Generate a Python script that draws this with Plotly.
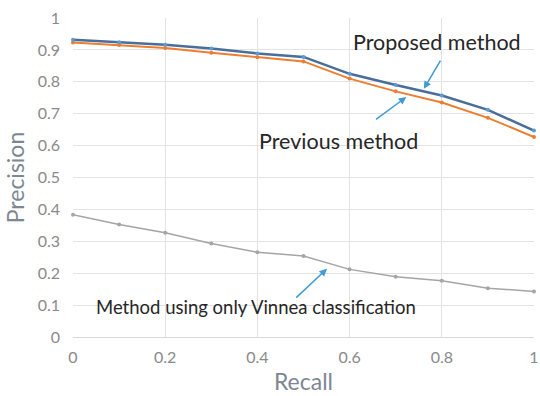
import plotly.graph_objects as go

recall = [0, 0.1, 0.2, 0.3, 0.4, 0.5, 0.6, 0.7, 0.8, 0.9, 1.0]
proposed = [0.932, 0.924, 0.916, 0.904, 0.889, 0.878, 0.825, 0.790, 0.757, 0.712, 0.647]
previous = [0.923, 0.915, 0.906, 0.891, 0.877, 0.864, 0.810, 0.770, 0.735, 0.687, 0.627]
vinnea = [0.383, 0.353, 0.327, 0.293, 0.266, 0.254, 0.212, 0.189, 0.176, 0.153, 0.143]

FONT = "Lato"
fig = go.Figure()
fig.add_trace(go.Scatter(x=recall, y=vinnea, mode="lines+markers",
                         line=dict(color="#A5A5A5", width=1.5),
                         marker=dict(color="#A5A5A5", size=4), cliponaxis=False))
fig.add_trace(go.Scatter(x=recall, y=previous, mode="lines+markers",
                         line=dict(color="#ED7D31", width=2),
                         marker=dict(color="#ED7D31", size=4), cliponaxis=False))
fig.add_trace(go.Scatter(x=recall, y=proposed, mode="lines+markers",
                         line=dict(color="#4A6E9A", width=2.5),
                         marker=dict(color="#5B9BD5", size=4), cliponaxis=False))

def ann(text, size, tx, ty, ax0, ay0, ax1, ay1):
    fig.add_annotation(x=tx, y=ty, text=text, showarrow=False,
                       font=dict(family=FONT, size=size, color="#262626"))
    fig.add_annotation(x=ax1, y=ay1, ax=ax0, ay=ay0, xref="x", yref="y",
                       axref="x", ayref="y", text="", showarrow=True,
                       arrowhead=2, arrowsize=1, arrowwidth=1.5, arrowcolor="#3E9BD8")

ann("Proposed method", 21.5, 0.789, 0.926, 0.799, 0.871, 0.761, 0.778)
ann("Previous method", 21.5, 0.576, 0.615, 0.654, 0.679, 0.723, 0.752)
ann("Method using only Vinnea classification", 18.5, 0.396, 0.095, 0.481, 0.119, 0.551, 0.214)

fig.update_layout(
    width=540, height=396,
    margin=dict(l=73, r=6, t=18, b=59),
    plot_bgcolor="white", paper_bgcolor="white",
    showlegend=False,
    font=dict(family=FONT),
)
fig.update_xaxes(range=[0, 1], tickvals=[0, 0.2, 0.4, 0.6, 0.8, 1],
                 ticktext=["0", "0.2", "0.4", "0.6", "0.8", "1"],
                 automargin=False, ticklabeloverflow="allow",
                 showgrid=True, gridcolor="#E3E3E3", gridwidth=1,
                 zeroline=False, showline=True, linecolor="#D9D9D9",
                 ticks="", ticklabelstandoff=6,
                 tickfont=dict(family=FONT, size=16, color="#8A8A8A"),
                 title=dict(text="Recall", font=dict(family=FONT, size=23, color="#7D8794"), standoff=8))
fig.update_yaxes(range=[0, 1], tickvals=[0, 0.1, 0.2, 0.3, 0.4, 0.5, 0.6, 0.7, 0.8, 0.9, 1],
                 ticktext=["0", "0.1", "0.2", "0.3", "0.4", "0.5", "0.6", "0.7", "0.8", "0.9", "1"],
                 automargin=False, ticklabeloverflow="allow",
                 showgrid=True, gridcolor="#E3E3E3", gridwidth=1,
                 zeroline=False, showline=False,
                 ticks="", ticklabelstandoff=12,
                 tickfont=dict(family=FONT, size=16, color="#8A8A8A"),
                 title=dict(text="Precision", font=dict(family=FONT, size=23, color="#7D8794"), standoff=6))

fig.write_html("out.html", config={"displayModeBar": False},
               post_script="document.body.style.margin='0px';document.body.style.overflow='hidden';")
